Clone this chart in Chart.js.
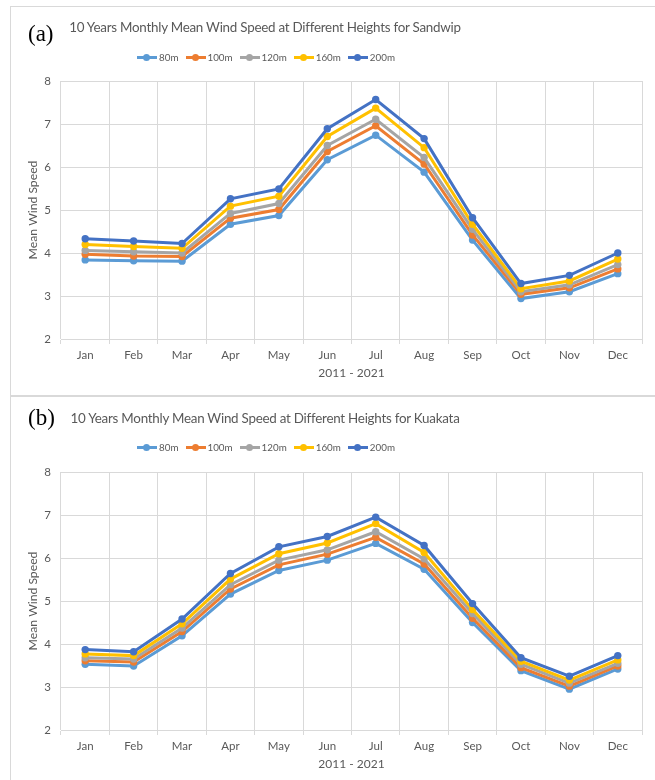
<!DOCTYPE html>
<html>
<head>
<meta charset="utf-8">
<script src="https://cdn.jsdelivr.net/npm/chart.js@4/dist/chart.umd.min.js"></script>
<style>
    html, body { margin: 0; padding: 0; background: #fff; }
    body { width: 655px; height: 780px; overflow: hidden; position: relative; font-family: Lato, "Open Sans", sans-serif; }
    .panel { position: absolute; left: 10px; width: 700px; border: 1px solid #d9d9d9; box-sizing: border-box; }
    #panel-a { top: 6px; height: 390px; }
    #panel-b { top: 396px; height: 400px; }
    canvas { position: absolute; left: 0; }
    #chart-a { top: 0; }
    #chart-b { top: 391px; }
    .tag { position: absolute; font-family: "Liberation Serif", "DejaVu Serif", serif; font-size: 23px; color: #000; line-height: 1; }
    .title { position: absolute; width: 520px; margin-left: -260px; text-align: center; font-size: 13.4px; letter-spacing: -0.25px; color: #595959; line-height: 1; white-space: nowrap; }
    .legend { position: absolute; width: 400px; margin-left: -200px; display: flex; justify-content: center; align-items: center; font-size: 9.8px; color: #595959; }
    .legend .item { display: flex; align-items: center; margin: 0 3.5px; }
    .legend .mark { position: relative; width: 20px; height: 3px; margin-right: 2px; }
    .legend .mark i { position: absolute; left: 6px; top: -2px; width: 7px; height: 7px; border-radius: 50%; background: inherit; }
</style>
</head>
<body>
<div class="panel" id="panel-a"></div>
<div class="panel" id="panel-b"></div>
<canvas id="chart-a" width="655" height="391"></canvas>
<canvas id="chart-b" width="655" height="391"></canvas>
<div class="tag" style="left:28px; top:22px;">(a)</div>
<div class="title" style="left:265px; top:21px;">10 Years Monthly Mean Wind Speed at Different Heights for Sandwip</div>
<div class="legend" id="legend-a" style="left:266px; top:51px;"></div>
<div class="tag" style="left:28px; top:406px;">(b)</div>
<div class="title" style="left:265px; top:412px;">10 Years Monthly Mean Wind Speed at Different Heights for Kuakata</div>
<div class="legend" id="legend-b" style="left:266px; top:441px;"></div>
<script>
const months = ['Jan', 'Feb', 'Mar', 'Apr', 'May', 'Jun', 'Jul', 'Aug', 'Sep', 'Oct', 'Nov', 'Dec'];
const heights = ['80m', '100m', '120m', '160m', '200m'];
const colors = ['#5b9bd5', '#ed7d31', '#a5a5a5', '#ffc000', '#4472c4'];
const yTicks = [2, 3, 4, 5, 6, 7, 8];

// (a) Sandwip
const sandwip80 = [3.84, 3.82, 3.81, 4.67, 4.87, 6.17, 6.74, 5.88, 4.30, 2.94, 3.10, 3.52];
const sandwip100 = [3.97, 3.93, 3.92, 4.81, 5.01, 6.36, 6.96, 6.07, 4.42, 3.04, 3.19, 3.63];
const sandwip120 = [4.06, 4.03, 4.00, 4.92, 5.15, 6.50, 7.11, 6.22, 4.55, 3.10, 3.26, 3.73];
const sandwip160 = [4.20, 4.15, 4.11, 5.09, 5.32, 6.71, 7.37, 6.45, 4.67, 3.17, 3.35, 3.86];
const sandwip200 = [4.33, 4.28, 4.22, 5.26, 5.49, 6.89, 7.57, 6.66, 4.82, 3.29, 3.48, 4.00];

// (b) Kuakata
const kuakata80 = [3.53, 3.49, 4.19, 5.16, 5.71, 5.95, 6.34, 5.74, 4.50, 3.38, 2.95, 3.42];
const kuakata100 = [3.61, 3.58, 4.29, 5.28, 5.84, 6.09, 6.48, 5.86, 4.60, 3.45, 3.02, 3.49];
const kuakata120 = [3.68, 3.65, 4.37, 5.38, 5.95, 6.19, 6.61, 5.98, 4.71, 3.53, 3.09, 3.55];
const kuakata160 = [3.77, 3.73, 4.47, 5.51, 6.10, 6.35, 6.80, 6.13, 4.80, 3.60, 3.16, 3.63];
const kuakata200 = [3.87, 3.82, 4.58, 5.64, 6.26, 6.50, 6.95, 6.29, 4.94, 3.68, 3.25, 3.73];

const Charts = {
    charts: {},

    init() {
        this.charts.a = this.render('chart-a', [sandwip80, sandwip100, sandwip120, sandwip160, sandwip200]);
        this.charts.b = this.render('chart-b', [kuakata80, kuakata100, kuakata120, kuakata160, kuakata200]);
        this.legend('legend-a');
        this.legend('legend-b');
    },

    legend(id) {
        const el = document.getElementById(id);
        el.innerHTML = heights.map((h, i) =>
            `<span class="item"><span class="mark" style="background:${colors[i]}"><i></i></span>${h}</span>`
        ).join('');
    },

    render(id, series) {
        const ctx = document.getElementById(id);
        const tickFont = { family: 'Lato', size: 11.5 };
        return new Chart(ctx, {
            type: 'line',
            data: {
                labels: months,
                datasets: series.map((data, i) => ({
                    label: heights[i],
                    data,
                    borderColor: colors[i],
                    backgroundColor: colors[i],
                    borderWidth: 3,
                    pointRadius: 3.7,
                    pointBorderWidth: 0,
                    pointBackgroundColor: colors[i],
                    tension: 0,
                    // Excel draws the last series on top
                    order: heights.length - i
                }))
            },
            options: {
                responsive: false,
                animation: false,
                layout: { padding: { top: 81, left: 0, right: 13, bottom: 0 } },
                plugins: { legend: { display: false }, tooltip: { enabled: false } },
                scales: {
                    x: {
                        offset: true,
                        grid: { offset: true, color: '#d9d9d9', tickLength: 5 },
                        border: { color: '#d9d9d9' },
                        ticks: { color: '#595959', font: tickFont, padding: 4, maxRotation: 0 },
                        title: { display: true, text: '2011 - 2021', color: '#595959', font: { family: 'Lato', size: 12 }, padding: { top: 0, bottom: 11 } },
                        afterFit(scale) { scale.height = 52; }
                    },
                    y: {
                        min: yTicks[0],
                        max: yTicks[yTicks.length - 1],
                        afterBuildTicks(scale) { scale.ticks = yTicks.map(v => ({ value: v })); },
                        grid: { color: '#d9d9d9', drawTicks: false },
                        border: { display: false },
                        ticks: { color: '#595959', font: tickFont, padding: 10 },
                        title: { display: true, text: 'Mean Wind Speed', color: '#595959', font: { family: 'Lato', size: 12.2 }, padding: { top: 26, bottom: 0 } },
                        afterFit(scale) { scale.width = 61; }
                    }
                }
            }
        });
    }
};

Charts.init();
</script>
</body>
</html>
